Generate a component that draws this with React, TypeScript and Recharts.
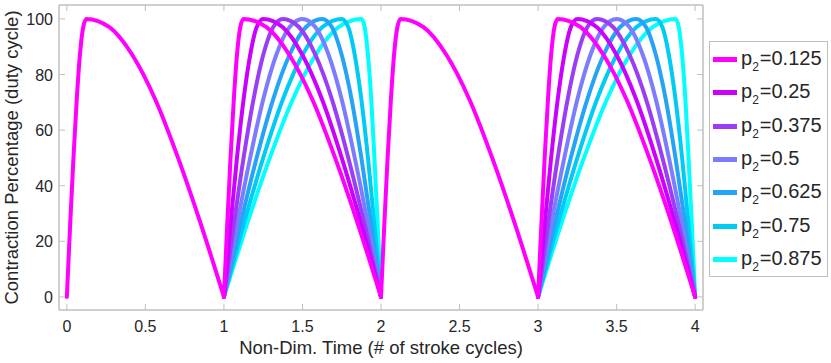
import { Label, Legend, Line, LineChart, XAxis, YAxis } from 'recharts'

const pValues = ['0.125', '0.25', '0.375', '0.5', '0.625', '0.75', '0.875']
const colors = ['#ff00ff', '#cc00ff', '#9b3df5', '#7c7cff', '#24a3f7', '#00cbf5', '#00ffff']

// contraction level along one stroke cycle (rise to full, then decay)
const levels = [0, 26, 50, 71, 87, 97, 100, 97, 87, 71, 50, 26, 0]

// phase within the cycle where each curve passes each level, one row per p2
const phases = [
  [0, 0.021, 0.042, 0.063, 0.083, 0.104, 0.125, 0.271, 0.417, 0.563, 0.708, 0.854, 1],
  [0, 0.042, 0.083, 0.125, 0.167, 0.208, 0.25, 0.375, 0.5, 0.625, 0.75, 0.875, 1],
  [0, 0.063, 0.125, 0.188, 0.25, 0.313, 0.375, 0.479, 0.583, 0.688, 0.792, 0.896, 1],
  [0, 0.083, 0.167, 0.25, 0.333, 0.417, 0.5, 0.583, 0.667, 0.75, 0.833, 0.917, 1],
  [0, 0.104, 0.208, 0.313, 0.417, 0.521, 0.625, 0.688, 0.75, 0.813, 0.875, 0.938, 1],
  [0, 0.125, 0.25, 0.375, 0.5, 0.625, 0.75, 0.792, 0.833, 0.875, 0.917, 0.958, 1],
  [0, 0.146, 0.292, 0.438, 0.583, 0.729, 0.875, 0.896, 0.917, 0.938, 0.958, 0.979, 1],
]

// stroke cycles where each curve is visible
const cycleStarts = [[0, 1, 2, 3], [1, 3], [1, 3], [1, 3], [1, 3], [1, 3], [1, 3]]

const xTicks = [0, 0.5, 1, 1.5, 2, 2.5, 3, 3.5, 4]
const yTicks = [0, 20, 40, 60, 80, 100]

const seriesData = pValues.map((_, i) =>
  cycleStarts[i].flatMap((start) => [
    ...phases[i].map((ph, k) => ({ t: start + ph, y: levels[k] as number | null })),
    { t: start + 1, y: null },
  ])
)

const axisColor = '#bfbfbf'
const textColor = '#262626'
const font = '"Liberation Sans", Arial, Helvetica, sans-serif'

const BottomTick = (props: any) => {
  const { x, y, payload } = props
  return (
    <g>
      <line x1={x} y1={y} x2={x} y2={y - 6} stroke={axisColor} />
      <text x={x} y={y + 22} textAnchor="middle" fontSize={16} fontFamily={font} fill={textColor}>
        {payload.value}
      </text>
    </g>
  )
}

const TopTick = (props: any) => {
  const { x, y } = props
  return <line x1={x} y1={y} x2={x} y2={y + 6} stroke={axisColor} />
}

const LeftTick = (props: any) => {
  const { x, y, payload } = props
  return (
    <g>
      <line x1={x} y1={y} x2={x + 6} y2={y} stroke={axisColor} />
      <text x={x - 6} y={y + 6} textAnchor="end" fontSize={16} fontFamily={font} fill={textColor}>
        {payload.value}
      </text>
    </g>
  )
}

const RightTick = (props: any) => {
  const { x, y } = props
  return <line x1={x} y1={y} x2={x - 6} y2={y} stroke={axisColor} />
}

const LegendBox = () => (
  <div
    style={{
      width: 119,
      height: 236,
      boxSizing: 'border-box',
      border: `1px solid ${axisColor}`,
      background: '#fff',
      paddingTop: 1,
      fontFamily: font,
    }}
  >
    {pValues.map((p, i) => (
      <div key={p} style={{ height: 33.3, display: 'flex', alignItems: 'center' }}>
        <div style={{ marginLeft: 3, width: 24, height: 5, background: colors[i] }} />
        <span style={{ marginLeft: 4, fontSize: 20, lineHeight: '20px', color: textColor, whiteSpace: 'nowrap' }}>
          p<span style={{ fontSize: 12, position: 'relative', top: 6, marginRight: 1 }}>2</span>={p}
        </span>
      </div>
    ))}
  </div>
)

export default function App() {
  return (
    <div style={{ position: 'absolute', left: 0, top: 0, width: 831, height: 363, background: '#fff' }}>
      <LineChart width={831} height={363} margin={{ top: 4, right: 127, bottom: 0, left: 0 }}>
        <XAxis
          xAxisId="b"
          type="number"
          dataKey="t"
          domain={[-0.05, 4.05]}
          ticks={xTicks}
          interval={0}
          allowDataOverflow
          height={53}
          tickSize={0}
          tickMargin={0}
          tick={BottomTick}
          axisLine={{ stroke: axisColor, strokeWidth: 1.5 }}
        >
          <Label
            content={(p: any) => {
              const vb = p.viewBox
              return (
                <text x={vb.x + vb.width / 2} y={vb.y + 44} textAnchor="middle" fontSize={18.5} fontFamily={font} fill={textColor}>
                  Non-Dim. Time (# of stroke cycles)
                </text>
              )
            }}
          />
        </XAxis>
        <XAxis
          xAxisId="t"
          orientation="top"
          type="number"
          dataKey="t"
          domain={[-0.05, 4.05]}
          ticks={xTicks}
          interval={0}
          allowDataOverflow
          height={1}
          tickSize={0}
          tickMargin={0}
          tick={TopTick}
          axisLine={{ stroke: axisColor, strokeWidth: 1.5 }}
        />
        <YAxis
          yAxisId="l"
          type="number"
          domain={[-4.7, 105]}
          ticks={yTicks}
          interval={0}
          allowDataOverflow
          width={59}
          tickSize={0}
          tickMargin={0}
          tick={LeftTick}
          axisLine={{ stroke: axisColor, strokeWidth: 1.5 }}
        >
          <Label
            content={(p: any) => {
              const vb = p.viewBox
              const cx = 18
              const cy = vb.y + vb.height / 2
              return (
                <text
                  x={cx}
                  y={cy}
                  transform={`rotate(-90, ${cx}, ${cy})`}
                  textAnchor="middle"
                  fontSize={18.5}
                  fontFamily={font}
                  fill={textColor}
                >
                  Contraction Percentage (duty cycle)
                </text>
              )
            }}
          />
        </YAxis>
        <YAxis
          yAxisId="r"
          orientation="right"
          type="number"
          domain={[-4.7, 105]}
          ticks={yTicks}
          interval={0}
          allowDataOverflow
          width={1}
          tickSize={0}
          tickMargin={0}
          tick={RightTick}
          axisLine={{ stroke: axisColor, strokeWidth: 1.5 }}
        />
        {pValues
          .map((p, i) => (
            <Line
              key={p}
              xAxisId="b"
              yAxisId="l"
              data={seriesData[i]}
              dataKey="y"
              name={`p2=${p}`}
              type="monotone"
              stroke={colors[i]}
              strokeWidth={4}
              strokeLinecap="round"
              strokeLinejoin="round"
              dot={false}
              activeDot={false}
              isAnimationActive={false}
            />
          ))
          .reverse()}
        <Legend
          layout="vertical"
          align="center"
          verticalAlign="middle"
          content={<LegendBox />}
          wrapperStyle={{ left: 709, top: 41, width: 119, height: 236 }}
        />
      </LineChart>
    </div>
  )
}
